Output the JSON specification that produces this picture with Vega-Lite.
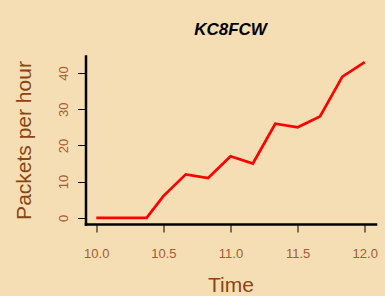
{
  "$schema": "https://vega.github.io/schema/vega-lite/v6.json",
  "width": 290,
  "height": 168,
  "autosize": {"type": "none"},
  "padding": {"left": 85.5, "top": 56, "right": 9.5, "bottom": 72},
  "background": "#F5DEB3",
  "config": {
    "view": {"stroke": null},
    "font": "Liberation Sans"
  },
  "title": {
    "text": "KC8FCW",
    "fontSize": 17,
    "fontWeight": "bold",
    "fontStyle": "italic",
    "font": "Liberation Sans",
    "color": "#000000",
    "anchor": "middle",
    "baseline": "alphabetic",
    "offset": 4
  },
  "data": {
    "values": [
      {"time": 10.0, "packets": 0},
      {"time": 10.375, "packets": 0},
      {"time": 10.5, "packets": 6},
      {"time": 10.6667, "packets": 12},
      {"time": 10.8333, "packets": 11},
      {"time": 11.0, "packets": 17},
      {"time": 11.1667, "packets": 15},
      {"time": 11.3333, "packets": 26},
      {"time": 11.5, "packets": 25},
      {"time": 11.6667, "packets": 28},
      {"time": 11.8333, "packets": 39},
      {"time": 12.0, "packets": 43}
    ]
  },
  "mark": {"type": "line", "color": "#FF0000", "strokeWidth": 2.7},
  "encoding": {
    "x": {
      "field": "time",
      "type": "quantitative",
      "scale": {"domain": [9.92, 12.08], "nice": false, "zero": false},
      "axis": {
        "title": "Time",
        "values": [10.0, 10.5, 11.0, 11.5, 12.0],
        "format": ".1f",
        "grid": false,
        "domainColor": "#000000",
        "domainWidth": 2.5,
        "domainCap": "square",
        "tickColor": "#000000",
        "tickWidth": 1,
        "tickSize": 8,
        "labelFont": "Liberation Sans",
        "labelFontSize": 13,
        "labelColor": "#A85A32",
        "labelBaseline": "alphabetic",
        "labelPadding": 25,
        "labelFlush": false,
        "labelOverlap": false,
        "titleFont": "Liberation Sans",
        "titleFontSize": 21,
        "titleFontWeight": "normal",
        "titleColor": "#8B4513",
        "titleBaseline": "alphabetic",
        "titleY": 67
      }
    },
    "y": {
      "field": "packets",
      "type": "quantitative",
      "scale": {"domain": [-1.72, 44.72], "nice": false, "zero": false},
      "axis": {
        "title": "Packets per hour",
        "values": [0, 10, 20, 30, 40],
        "grid": false,
        "domainColor": "#000000",
        "domainWidth": 2.5,
        "domainCap": "square",
        "tickColor": "#000000",
        "tickWidth": 1,
        "tickSize": 8,
        "labelFont": "Liberation Sans",
        "labelFontSize": 13,
        "labelColor": "#A85A32",
        "labelAngle": -90,
        "labelAlign": "center",
        "labelBaseline": "alphabetic",
        "labelPadding": 10,
        "labelFlush": false,
        "labelOverlap": false,
        "titleFont": "Liberation Sans",
        "titleFontSize": 21,
        "titleFontWeight": "normal",
        "titleColor": "#8B4513",
        "titleAngle": -90,
        "titleBaseline": "alphabetic",
        "titleX": -55
      }
    }
  }
}
